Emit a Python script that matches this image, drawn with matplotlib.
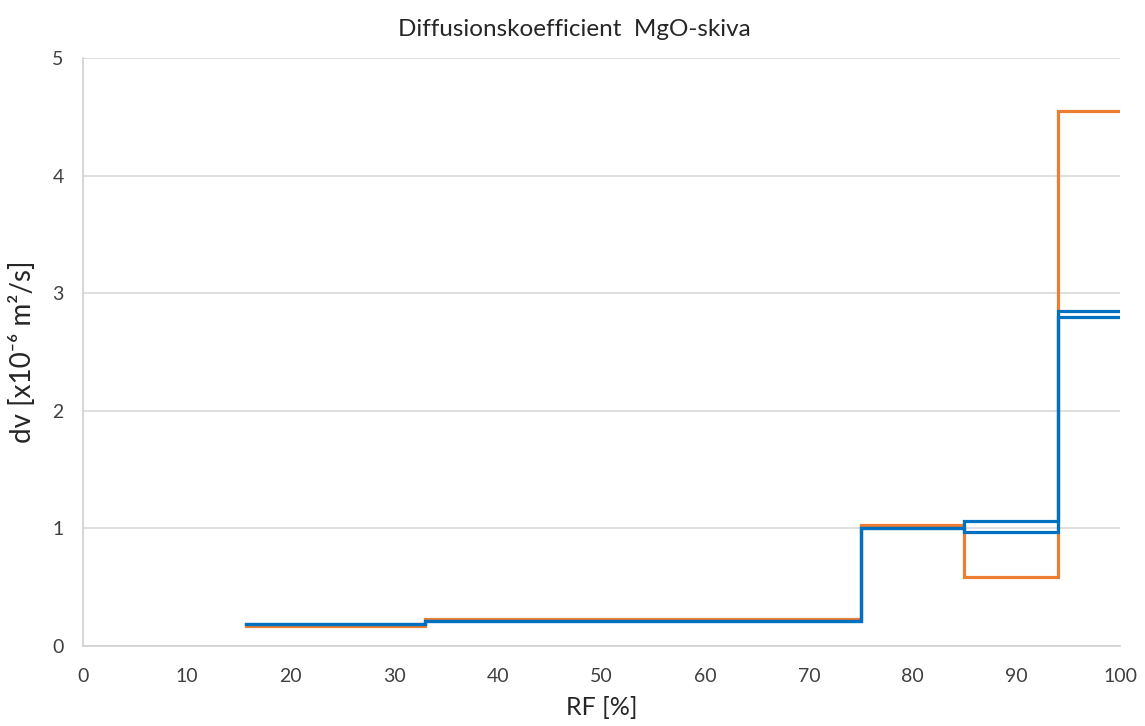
import matplotlib
matplotlib.use("Agg")
import matplotlib.pyplot as plt

# Relative humidity interval edges [%]
rf_edges = [15.7, 33, 75, 85, 94, 100]

# Diffusion coefficient per interval [x10^-6 m2/s]
dv_orange = [0.17, 0.227, 1.03, 0.59, 4.55]
dv_blue_a = [0.19, 0.21, 1.00, 1.06, 2.85]
dv_blue_b = [0.19, 0.21, 1.00, 0.97, 2.80]

x_ticks = [0, 10, 20, 30, 40, 50, 60, 70, 80, 90, 100]
y_ticks = [0, 1, 2, 3, 4, 5]

ORANGE = "#ED7D31"
BLUE = "#0070C0"

plt.rcParams["font.family"] = ["Lato", "DejaVu Sans"]

fig = plt.figure(figsize=(11.45, 7.26), dpi=100)
ax = fig.add_axes([83 / 1145, 80 / 726, (1120 - 83) / 1145, (646 - 58) / 726])


def step_series(values, color):
    ax.step(rf_edges, list(values) + [values[-1]], where="post",
            color=color, lw=2.3, solid_joinstyle="miter")


step_series(dv_orange, ORANGE)
step_series(dv_blue_a, BLUE)
step_series(dv_blue_b, BLUE)

ax.set_xlim(0, 100)
ax.set_ylim(0, 5)
ax.set_xticks(x_ticks)
ax.set_yticks(y_ticks)
ax.tick_params(length=0, labelsize=14, colors="#404040")
ax.tick_params(axis="x", pad=16)
ax.tick_params(axis="y", pad=14)

ax.grid(axis="y", color="#d9d9d9", lw=1.2)
ax.set_axisbelow(True)
for side in ("top", "right"):
    ax.spines[side].set_visible(False)
for side in ("left", "bottom"):
    ax.spines[side].set_color("#d0d0d0")
    ax.spines[side].set_linewidth(1.2)

ax.set_xlabel("RF [%]", fontsize=18, color="#262626", labelpad=8)
ax.set_ylabel("dv [x10⁻⁶ m²/s]", fontsize=20, color="#262626", labelpad=12)
fig.text(574 / 1145, 1 - 29 / 726, "Diffusionskoefficient  MgO-skiva",
         ha="center", va="center", fontsize=17.5, color="#262626")

fig.savefig("out.png", dpi=100)
